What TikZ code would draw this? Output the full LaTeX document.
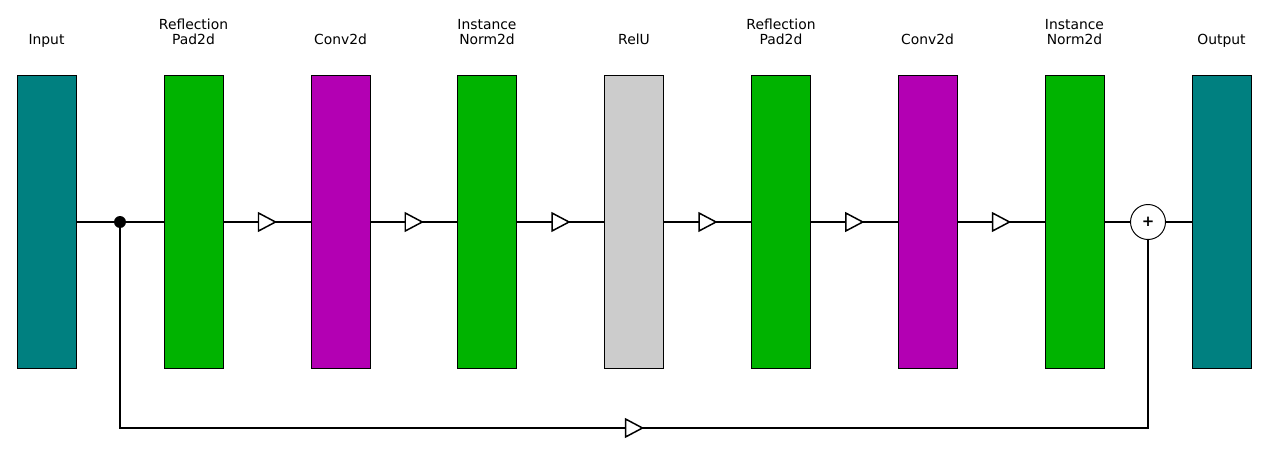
\documentclass[tikz,border=0pt]{standalone}
\usepackage{fontspec}
\setmainfont{DejaVu Sans}
\usepackage{tikz}
\usetikzlibrary{shapes.geometric, arrows.meta, positioning}
\definecolor{iocolor}{RGB}{0, 128, 128}
\definecolor{padcolor}{RGB}{0, 179, 0}
\definecolor{convcolor}{RGB}{179, 0, 179}
\definecolor{relucolor}{RGB}{204, 204, 204}

\begin{document}
\begin{tikzpicture}[x=0.02cm, y=-0.02cm,
        layer/.style={rectangle, draw, line width=0.55pt, minimum width=1.18cm, minimum height=5.88cm, inner sep=0pt},
        title/.style={anchor=south, align=center, font=\fontsize{7.9}{8.6}\selectfont, inner sep=0pt, text depth=0.25em},
        link/.style={line width=0.85pt},
        flow/.pic={\draw[fill=white, line width=0.85pt, line join=miter] (-8.5,-9) -- (8.5,0) -- (-8.5,9) -- cycle;},
        junction/.style={circle, fill=black, minimum size=0.24cm, inner sep=0pt},
        adder/.style={circle, draw, fill=white, line width=0.55pt, minimum size=0.7cm, inner sep=0pt, font=\fontsize{8.5}{9}\selectfont}
    ]
        \useasboundingbox (0,0) rectangle (1279,453);

        % Layers
        \node[layer, fill=iocolor] (input) at (46.5,222) {};
        \node[layer, fill=padcolor] (pad1) at (193.5,222) {};
        \node[layer, fill=convcolor] (conv1) at (340.5,222) {};
        \node[layer, fill=padcolor] (norm1) at (487,222) {};
        \node[layer, fill=relucolor] (relu) at (634,222) {};
        \node[layer, fill=padcolor] (pad2) at (781,222) {};
        \node[layer, fill=convcolor] (conv2) at (927.5,222) {};
        \node[layer, fill=padcolor] (norm2) at (1074.5,222) {};
        \node[layer, fill=iocolor] (output) at (1221.5,222) {};

        % Titles
        \node[title] at (46.5,49) {Input};
        \node[title] at (193.5,49) {Reflection\\Pad2d};
        \node[title] at (340.5,49) {Conv2d};
        \node[title] at (487,49) {Instance\\Norm2d};
        \node[title] at (634,49) {RelU};
        \node[title] at (781,49) {Reflection\\Pad2d};
        \node[title] at (927.5,49) {Conv2d};
        \node[title] at (1074.5,49) {Instance\\Norm2d};
        \node[title] at (1221.5,49) {Output};

        % Skip junction and sum
        \node[junction] (split) at (120,222) {};
        \node[adder] (sum) at (1148,222) {\textbf{+}};
        \coordinate (skipl) at (120,428);
        \coordinate (skipr) at (1148,428);

        % Main path
        \draw[link] (input.east) -- (split) -- (pad1.west);
        \draw[link] (pad1.east) -- pic{flow} (conv1.west);
        \draw[link] (conv1.east) -- pic{flow} (norm1.west);
        \draw[link] (norm1.east) -- pic{flow} (relu.west);
        \draw[link] (relu.east) -- pic{flow} (pad2.west);
        \draw[link] (pad2.east) -- pic{flow} (conv2.west);
        \draw[link] (conv2.east) -- pic{flow} (norm2.west);
        \draw[link] (norm2.east) -- (sum.west);
        \draw[link] (sum.east) -- (output.west);

        % Residual path
        \draw[link] (split) -- (skipl) -- pic{flow} (skipr) -- (sum.south);

    \end{tikzpicture}
\end{document}
